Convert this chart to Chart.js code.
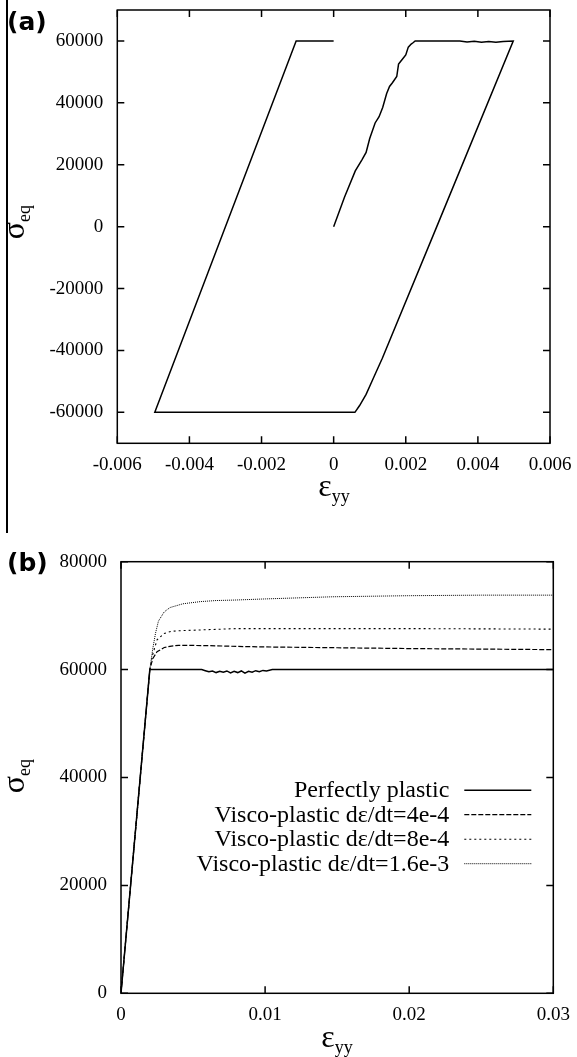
<!DOCTYPE html>
<html>
<head>
<meta charset="utf-8">
<script src="https://cdn.jsdelivr.net/npm/chart.js@4.4.0/dist/chart.umd.min.js"></script>
<style>
  body { margin: 0; background: #fff; }
  #page { position: relative; width: 577px; height: 1057px; font-family: 'Liberation Serif', serif; color: #000; }
  .panel { position: absolute; left: 0; }
  .tag { position: absolute; left: 7px; font: bold 25px 'DejaVu Sans', sans-serif; line-height: 1; }
  .rule { position: absolute; left: 6px; top: 0; width: 1.5px; height: 533px; background: #000; }
  .xt { position: absolute; font-size: 32px; line-height: 1; white-space: nowrap; transform: translateX(-50%); }
  .yt { position: absolute; font-size: 32px; line-height: 1; white-space: nowrap; transform: translate(-50%, -50%) rotate(-90deg); }
  .sub { font-size: 18px; position: relative; top: 6px; }
</style>
</head>
<body>
<div id="page">
  <div class="rule"></div>
  <canvas id="chartA" class="panel" style="top:0" width="577" height="520"></canvas>
  <canvas id="chartB" class="panel" style="top:520px" width="577" height="537"></canvas>

  <div class="tag" style="top:9px">(a)</div>
  <div class="tag" style="top:550px">(b)</div>

  <div class="yt" style="left:13px; top:222px">σ<span class="sub">eq</span></div>
  <div class="xt" style="left:334px; top:469px">ε<span class="sub">yy</span></div>

  <div class="yt" style="left:13px; top:776px">σ<span class="sub">eq</span></div>
  <div class="xt" style="left:337px; top:1020px">ε<span class="sub">yy</span></div>
</div>

<script>
// (a) one tension / compression cycle
const loopStrain = [0, 0.00030, 0.00060, 0.00078, 0.00090, 0.00100, 0.00115, 0.00126, 0.00136, 0.00147,
  0.00155, 0.00163, 0.00175, 0.00180, 0.00190, 0.00200, 0.00207, 0.00215, 0.00221, 0.00226,
  0.0035, 0.0037, 0.0039, 0.0041, 0.0043, 0.0045, 0.0047, 0.00498,
  0.00286, 0.00135, 0.00110, 0.00090, 0.00072, 0.00059, -0.00496, -0.00104, 0];
const loopStress = [0, 9500, 18000, 21500, 24000, 28500, 33500, 35500, 38500, 43000,
  45300, 46500, 48500, 52500, 54000, 55500, 58000, 59000, 59500, 60000,
  60000, 59700, 59900, 59600, 59800, 59600, 59800, 60000,
  0, -42500, -49000, -54200, -57800, -60000, -60000, 60000, 60000];
const xTicksA = [-0.006, -0.004, -0.002, 0, 0.002, 0.004, 0.006];
const yTicksA = [-60000, -40000, -20000, 0, 20000, 40000, 60000];

// (b) monotonic loading, different strain rates
const seriesNames = ['Perfectly plastic', 'Visco-plastic dε/dt=4e-4',
  'Visco-plastic dε/dt=8e-4', 'Visco-plastic dε/dt=1.6e-3'];
const ppStrain = [0, 0.002, 0.0056, 0.00585, 0.0061, 0.00635, 0.0066, 0.00685, 0.0071, 0.00735, 0.0076,
  0.00785, 0.0081, 0.00835, 0.0086, 0.00885, 0.0091, 0.00935, 0.0096, 0.00985, 0.0101, 0.0105, 0.03];
const ppStress = [0, 60000, 60000, 59800, 59600, 59750, 59450, 59700, 59500, 59750, 59400,
  59700, 59450, 59750, 59350, 59700, 59500, 59800, 59600, 59850, 59750, 60000, 60000];
const vp4Strain = [0, 0.002, 0.0022, 0.0025, 0.003, 0.0035, 0.004, 0.006, 0.008, 0.01, 0.015, 0.02, 0.025, 0.03];
const vp4Stress = [0, 60000, 62000, 63300, 64100, 64350, 64500, 64450, 64300, 64200, 64050, 63900, 63800, 63700];
const vp8Strain = [0, 0.002, 0.0022, 0.0025, 0.003, 0.0035, 0.004, 0.005, 0.006, 0.008, 0.01, 0.02, 0.03];
const vp8Stress = [0, 60000, 62800, 65500, 66700, 67100, 67200, 67300, 67400, 67600, 67600, 67600, 67500];
const vp16Strain = [0, 0.002, 0.0022, 0.0024, 0.0026, 0.003, 0.0034, 0.0043, 0.0055, 0.0066, 0.008, 0.01, 0.0147, 0.02, 0.025, 0.03];
const vp16Stress = [0, 60000, 63800, 66800, 69000, 70700, 71500, 72200, 72600, 72800, 72900, 73100, 73500, 73700, 73800, 73800];
const xTicksB = [0, 0.01, 0.02, 0.03];
const yTicksB = [0, 20000, 40000, 60000, 80000];

const serif = "'Liberation Serif', 'Times New Roman', serif";
const tickFont = { family: serif, size: 19 };

function pts(xs, ys) {
  return xs.map((x, i) => ({ x: x, y: ys[i] }));
}

// gnuplot-like box with inward ticks on all four sides
const frame = {
  id: 'frame',
  afterDatasetsDraw(chart) {
    const { ctx, chartArea: a, scales } = chart;
    ctx.save();
    ctx.strokeStyle = '#000';
    ctx.lineWidth = 1.5;
    ctx.setLineDash([]);
    ctx.strokeRect(a.left, a.top, a.right - a.left, a.bottom - a.top);
    ctx.beginPath();
    scales.x.ticks.forEach(t => {
      const px = scales.x.getPixelForValue(t.value);
      ctx.moveTo(px, a.bottom); ctx.lineTo(px, a.bottom - 7);
      ctx.moveTo(px, a.top); ctx.lineTo(px, a.top + 7);
    });
    scales.y.ticks.forEach(t => {
      const py = scales.y.getPixelForValue(t.value);
      ctx.moveTo(a.left, py); ctx.lineTo(a.left + 7, py);
      ctx.moveTo(a.right, py); ctx.lineTo(a.right - 7, py);
    });
    ctx.stroke();
    ctx.restore();
  }
};

// key: text right aligned, line sample to its right
const lineKey = {
  id: 'lineKey',
  afterDatasetsDraw(chart) {
    if (!chart.options.plugins.lineKey) return;
    const { ctx, chartArea: a } = chart;
    ctx.save();
    ctx.font = '24px ' + serif;
    ctx.textAlign = 'right';
    ctx.textBaseline = 'alphabetic';
    chart.data.datasets.forEach((ds, i) => {
      const y = a.top + 228.5 + i * 24.5;
      ctx.fillStyle = '#000';
      ctx.fillText(ds.label, a.right - 104, y + 7);
      ctx.strokeStyle = ds.borderColor;
      ctx.lineWidth = ds.borderWidth;
      ctx.setLineDash(ds.borderDash || []);
      ctx.beginPath();
      ctx.moveTo(a.right - 89, y);
      ctx.lineTo(a.right - 22, y);
      ctx.stroke();
    });
    ctx.restore();
  }
};

// fixed axis band size, and no extra room for half labels at the ends
function fixSize(key, size) {
  return s => {
    s[key] = size;
    s.paddingTop = 0; s.paddingBottom = 0; s.paddingLeft = 0; s.paddingRight = 0;
  };
}

function axis(min, max, ticks, pad, fit) {
  return {
    type: 'linear',
    min: min,
    max: max,
    grid: { display: false },
    border: { display: false },
    afterBuildTicks: s => { s.ticks = ticks.map(v => ({ value: v })); },
    afterFit: fit,
    ticks: { font: tickFont, color: '#000', autoSkip: false, maxRotation: 0, padding: pad,
      callback: v => String(v) }
  };
}

function line(label, data, width, dash) {
  return { label: label, data: data, showLine: true, borderColor: '#000', borderWidth: width,
    borderDash: dash, pointRadius: 0, fill: false, tension: 0 };
}

new Chart(document.getElementById('chartA'), {
  type: 'scatter',
  data: { datasets: [line('loop', pts(loopStrain, loopStress), 1.5, [])] },
  options: {
    responsive: false,
    animation: false,
    layout: { padding: { top: 10, right: 27, left: 0, bottom: 0 } },
    plugins: { legend: { display: false }, tooltip: { enabled: false } },
    scales: {
      x: axis(-0.006, 0.006, xTicksA, 2, fixSize('height', 76.7)),
      y: axis(-70000, 70000, yTicksA, 6, fixSize('width', 117.3))
    }
  },
  plugins: [frame]
});

new Chart(document.getElementById('chartB'), {
  type: 'scatter',
  data: {
    datasets: [
      line(seriesNames[0], pts(ppStrain, ppStress), 1.5, []),
      line(seriesNames[1], pts(vp4Strain, vp4Stress), 1.2, [5, 2]),
      line(seriesNames[2], pts(vp8Strain, vp8Stress), 1.1, [2, 3]),
      line(seriesNames[3], pts(vp16Strain, vp16Stress), 1, [1, 1])
    ]
  },
  options: {
    responsive: false,
    animation: false,
    layout: { padding: { top: 41.7, right: 23.7, left: 0, bottom: 0 } },
    plugins: { legend: { display: false }, tooltip: { enabled: false }, lineKey: true },
    scales: {
      x: axis(0, 0.03, xTicksB, 2, fixSize('height', 63.7)),
      y: axis(0, 80000, yTicksB, 6, fixSize('width', 121))
    }
  },
  plugins: [frame, lineKey]
});
</script>
</body>
</html>
